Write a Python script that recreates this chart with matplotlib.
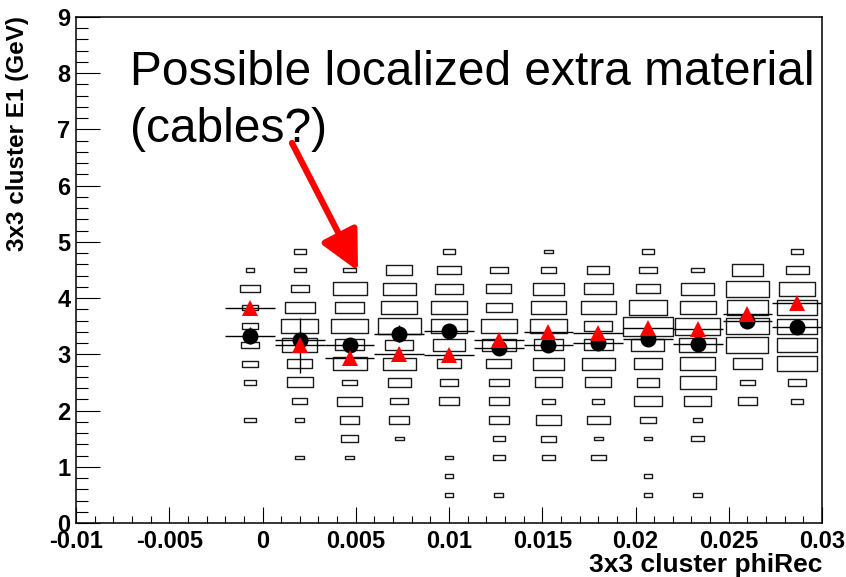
import numpy as np
import matplotlib
matplotlib.use("Agg")
import matplotlib.pyplot as plt
from matplotlib.patches import Rectangle
from matplotlib.collections import PatchCollection
from matplotlib.ticker import FixedLocator, MultipleLocator

# ---- binning of the 2D histogram (phiRec vs E1) ----
phi_lo, phi_hi, n_phi = -0.01, 0.03, 15
e_lo, e_hi, n_e = 0.0, 9.0, 27

# phi bins (1-based) that contain entries
phi_bins = [4, 5, 6, 7, 8, 9, 10, 11, 12, 13, 14, 15]

# entries per energy bin 1..15 for each phi bin (higher energy bins are empty)
counts_b04 = [0, 0, 0, 0, 0, 2, 0, 2, 3, 4, 3, 3, 5, 1, 0]
counts_b05 = [0, 0, 0, 1, 0, 1, 3, 9, 8, 16, 18, 12, 4, 2, 2]
counts_b06 = [0, 0, 0, 1, 4, 5, 8, 3, 15, 11, 17, 11, 15, 2, 0]
counts_b07 = [0, 0, 0, 0, 1, 5, 4, 7, 14, 10, 24, 17, 14, 9, 0]
counts_b08 = [0, 1, 1, 1, 0, 0, 5, 4, 8, 13, 17, 17, 10, 7, 2]
counts_b09 = [0, 1, 0, 2, 2, 5, 5, 5, 8, 15, 17, 9, 8, 4, 0]
counts_b10 = [0, 0, 0, 2, 3, 8, 2, 9, 13, 11, 18, 16, 13, 3, 1]
counts_b11 = [0, 0, 0, 3, 1, 7, 2, 9, 14, 11, 10, 16, 11, 6, 0]
counts_b12 = [0, 1, 1, 0, 1, 3, 10, 6, 10, 14, 32, 18, 8, 4, 2]
counts_b13 = [0, 1, 0, 0, 2, 1, 9, 17, 16, 18, 26, 17, 14, 2, 0]
counts_b14 = [0, 0, 0, 0, 0, 0, 5, 3, 11, 23, 24, 21, 24, 12, 0]
counts_b15 = [0, 0, 0, 0, 0, 0, 2, 4, 20, 20, 20, 21, 17, 7, 2]

# profile means (black circles) and second profile (red triangles)
mean_circle = [3.33, 3.26, 3.16, 3.37, 3.42, 3.11, 3.17, 3.20, 3.27, 3.18, 3.59, 3.49]
err_circle = [0.15, 0.10, 0.10, 0.15, 0.10, 0.10, 0.10, 0.10, 0.10, 0.10, 0.10, 0.10]
mean_triangle = [3.83, 3.16, 2.93, 3.01, 2.99, 3.26, 3.40, 3.38, 3.46, 3.45, 3.72, 3.91]
err_triangle = [0.10, 0.49, 0.10, 0.12, 0.10, 0.10, 0.10, 0.10, 0.10, 0.10, 0.10, 0.10]

# axis ticks and labels
x_ticks = [-0.01, -0.005, 0.0, 0.005, 0.01, 0.015, 0.02, 0.025, 0.03]
x_tick_labels = ["-0.01", "-0.005", "0", "0.005", "0.01", "0.015", "0.02", "0.025", "0.03"]
y_ticks = [0, 1, 2, 3, 4, 5, 6, 7, 8, 9]
y_tick_labels = ["0", "1", "2", "3", "4", "5", "6", "7", "8", "9"]

x_title = "3x3 cluster phiRec"
y_title = "3x3 cluster E1 (GeV)"
note_line1 = "Possible localized extra material"
note_line2 = "(cables?)"

all_counts = [counts_b04, counts_b05, counts_b06, counts_b07, counts_b08, counts_b09,
              counts_b10, counts_b11, counts_b12, counts_b13, counts_b14, counts_b15]

W, H = 846, 577
fig = plt.figure(figsize=(W / 100, H / 100), dpi=100)
ax = fig.add_axes([76 / W, (H - 523) / H, 746 / W, 506 / H])
ax.set_xlim(phi_lo, phi_hi)
ax.set_ylim(e_lo, e_hi)

dx = (phi_hi - phi_lo) / n_phi
dy = (e_hi - e_lo) / n_e
cmax = max(max(c) for c in all_counts)

# box representation: box side scales with sqrt(content / max)
boxes = []
for b, col in zip(phi_bins, all_counts):
    xc = phi_lo + (b - 0.5) * dx
    for j, c in enumerate(col):
        if c <= 0:
            continue
        r = np.sqrt(c / cmax)
        yc = e_lo + (j + 0.5) * dy
        boxes.append(Rectangle((xc - r * dx / 2, yc - r * dy / 2), r * dx, r * dy))
ax.add_collection(PatchCollection(boxes, facecolor="none", edgecolor="#1a1a1a",
                                  linewidth=1.0, zorder=2))

xc_bins = [phi_lo + (b - 0.5) * dx for b in phi_bins]
ax.errorbar(xc_bins, mean_circle, xerr=dx / 2, yerr=err_circle, fmt="o",
            color="black", ecolor="black", elinewidth=1.0, capsize=0,
            markersize=11.5, markeredgewidth=0, zorder=3)
ax.errorbar(xc_bins, mean_triangle, xerr=dx / 2, yerr=err_triangle, fmt="^",
            markerfacecolor="red", markeredgecolor="red", ecolor="black",
            elinewidth=1.0, capsize=0, markersize=11, markeredgewidth=0, zorder=4)

# axes styling
for s in ax.spines.values():
    s.set_linewidth(1.1)
ax.xaxis.set_major_locator(FixedLocator(x_ticks))
ax.set_xticklabels(x_tick_labels)
ax.xaxis.set_minor_locator(MultipleLocator(0.001))
ax.yaxis.set_major_locator(FixedLocator(y_ticks))
ax.set_yticklabels(y_tick_labels)
ax.yaxis.set_minor_locator(MultipleLocator(0.2))
ax.tick_params(axis="x", which="major", direction="in", length=11.2, width=0.8, pad=5,
               top=False, labelsize=17)
ax.tick_params(axis="x", which="minor", direction="in", length=5.4, width=0.8, top=False)
ax.tick_params(axis="y", which="major", direction="in", length=17, width=0.8, pad=4,
               right=False, labelsize=17)
ax.tick_params(axis="y", which="minor", direction="in", length=8.6, width=0.8, right=False)
for lab in ax.get_xticklabels() + ax.get_yticklabels():
    lab.set_fontfamily("Liberation Sans")
    lab.set_fontweight("bold")

fig.text(822 / W, 1 - 565 / H, x_title, ha="right", va="center",
         fontsize=19, fontweight="bold", family="Liberation Sans")
fig.text(18 / W, 1 - 16 / H, y_title, ha="center", va="top", rotation=90,
         fontsize=17.5, fontweight="bold", family="Liberation Sans")

# annotation
fig.text(130 / W, 1 - 85 / H, note_line1, ha="left", va="baseline",
         fontsize=34.5, family="Liberation Sans")
fig.text(130 / W, 1 - 142 / H, note_line2, ha="left", va="baseline",
         fontsize=34.5, family="Liberation Sans")

tail_px = (292, 143)
tip_px = (358, 271)
inv = ax.transData.inverted()
tail = inv.transform((tail_px[0], H - tail_px[1]))
tip = inv.transform((tip_px[0], H - tip_px[1]))
ax.annotate("", xy=tip, xytext=tail,
            arrowprops=dict(arrowstyle="-|>,head_length=1.0,head_width=0.5",
                            mutation_scale=24, color="red", lw=4.5,
                            shrinkA=0, shrinkB=0),
            annotation_clip=False, zorder=5)

fig.savefig("out.png", dpi=100)
